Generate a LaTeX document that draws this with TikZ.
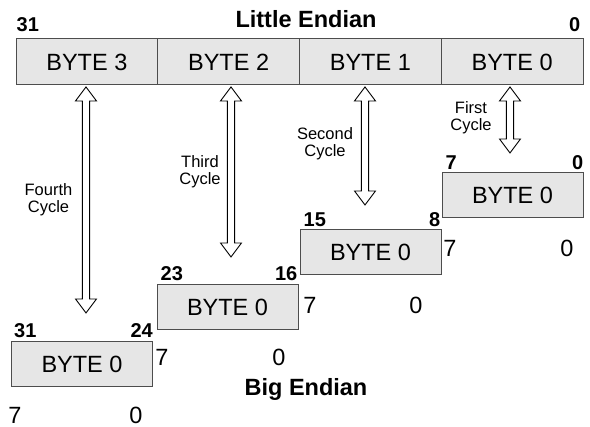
\documentclass[tikz,border=0pt]{standalone}
\usepackage{fontspec}
\setmainfont{Liberation Sans}
\usetikzlibrary{calc}
\definecolor{boxgray}{HTML}{E6E6E6}
\definecolor{edgegray}{HTML}{4D4D4D}
\newcommand\bytefont{\fontsize{23.5}{28}\selectfont}
\newcommand\bitfont{\fontsize{20}{24}\selectfont\bfseries}
\newcommand\cycfont{\fontsize{16.5}{17}\selectfont}
\newcommand\hollowdbl[2]{%
  \draw[arrowline] (#1) -- ($(#1)+(-10.5,14)$) -- ($(#1)+(-3.6,14)$)
    -- ($(#2)+(-3.6,-14)$) -- ($(#2)+(-10.5,-14)$) -- (#2)
    -- ($(#2)+(10.5,-14)$) -- ($(#2)+(3.6,-14)$)
    -- ($(#1)+(3.6,14)$) -- ($(#1)+(10.5,14)$) -- cycle;}
\begin{document}
\begin{tikzpicture}[x=1pt,y=-1pt,
  cell/.style={draw=edgegray, fill=boxgray, line width=1pt, minimum width=141.75pt,
    minimum height=46pt, inner sep=0pt, font=\bytefont},
  bbox/.style={draw=edgegray, fill=boxgray, line width=1pt, minimum width=141pt,
    minimum height=45pt, inner sep=0pt, font=\bytefont},
  bitlbl/.style={inner sep=0pt, font=\bitfont},
  plainlbl/.style={inner sep=0pt, font=\bytefont},
  cyclbl/.style={inner sep=0pt, font=\cycfont, align=center},
  title/.style={inner sep=0pt, font=\bytefont\bfseries},
  arrowline/.style={draw=black, fill=white, line width=0.9pt, line join=miter}]
\useasboundingbox (0,0) rectangle (590,427);
% top register
\node[cell] (t3) at (86.875,62) {BYTE 3};
\node[cell] (t2) at (228.625,62) {BYTE 2};
\node[cell] (t1) at (370.375,62) {BYTE 1};
\node[cell] (t0) at (512.125,62) {BYTE 0};
\node[bitlbl, anchor=base west] (t31) at ($(t3.north west)+(1,-7)$) {31};
\node[bitlbl, anchor=base east] (t00) at ($(t0.north east)+(-3,-7)$) {0};
\node[title] (little) at (306,19) {Little Endian};
% byte boxes
\node[bbox] (b1) at (512.5,195.5) {BYTE 0};
\node[bbox] (b2) at (370.5,252.5) {BYTE 0};
\node[bbox] (b3) at (227.5,307.5) {BYTE 0};
\node[bbox] (b4) at (82,364.5) {BYTE 0};
\node[bitlbl, anchor=base west] (b1l) at ($(b1.north west)+(4,-3)$) {7};
\node[bitlbl, anchor=base east] (b1r) at ($(b1.north east)+(0,-3)$) {0};
\node[bitlbl, anchor=base west] (b2l) at ($(b2.north west)+(4,-3)$) {15};
\node[bitlbl, anchor=base east] (b2r) at ($(b2.north east)+(-1,-3)$) {8};
\node[bitlbl, anchor=base west] (b3l) at ($(b3.north west)+(4,-4)$) {23};
\node[bitlbl, anchor=base east] (b3r) at ($(b3.north east)+(-1,-4)$) {16};
\node[bitlbl, anchor=base west] (b4l) at ($(b4.north west)+(3,-4)$) {31};
\node[bitlbl, anchor=base east] (b4r) at ($(b4.north east)+(0,-4)$) {24};
% plain bit numbers
\node[plainlbl] (p1a) at (450,248) {7};
\node[plainlbl] (p1b) at (567,248) {0};
\node[plainlbl] (p2a) at (310,305) {7};
\node[plainlbl] (p2b) at (416,305) {0};
\node[plainlbl] (p3a) at (162,357) {7};
\node[plainlbl] (p3b) at (279,357) {0};
\node[plainlbl] (p4a) at (15,415) {7};
\node[plainlbl] (p4b) at (136,415) {0};
\node[title] (big) at (306,389) {Big Endian};
% arrows
\coordinate (a4t) at (86,87);  \coordinate (a4b) at (86,313);
\coordinate (a3t) at (231,87); \coordinate (a3b) at (231,257);
\coordinate (a2t) at (365,87); \coordinate (a2b) at (365,205);
\coordinate (a1t) at (510,87); \coordinate (a1b) at (510,153);
\hollowdbl{a4t}{a4b}
\hollowdbl{a3t}{a3b}
\hollowdbl{a2t}{a2b}
\hollowdbl{a1t}{a1b}
\node[cyclbl] (c4) at (48.5,200) {Fourth\\Cycle};
\node[cyclbl] (c3) at (200,172) {Third\\Cycle};
\node[cyclbl] (c2) at (325,144) {Second\\Cycle};
\node[cyclbl] (c1) at (471,118) {First\\Cycle};
\end{tikzpicture}
\end{document}
